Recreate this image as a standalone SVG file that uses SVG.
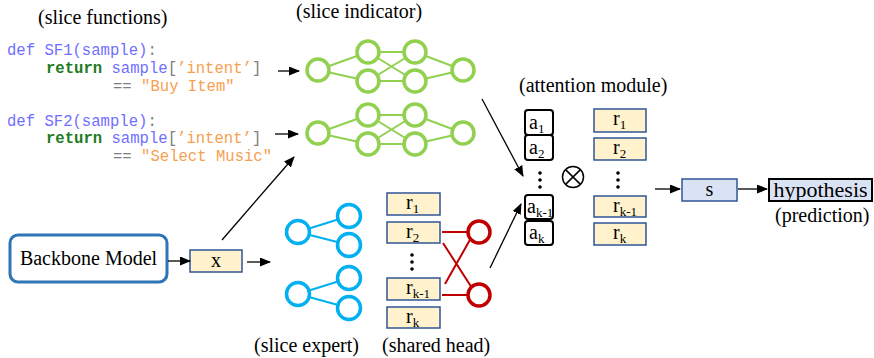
<svg xmlns="http://www.w3.org/2000/svg" width="874" height="358" viewBox="0 0 874 358">
<defs>
<marker id="ah" markerUnits="userSpaceOnUse" markerWidth="11" markerHeight="9" refX="10" refY="4.5" orient="auto">
<path d="M0,0 L11,4.5 L0,9 z" fill="#000"/>
</marker>
</defs>
<style>
.t{font-family:"Liberation Serif","Times New Roman",serif;font-size:20px;fill:#000}
.code{font-family:"Liberation Mono","Courier New",monospace;font-size:15.6px}
.kb{fill:#6f6fff}.kg{fill:#1e7b1e;font-weight:bold}.ko{fill:#f7a050}.kx{fill:#7f7f7f}
.gc{fill:#fff;stroke:#92d050;stroke-width:3.5}
.gl{stroke:#92d050;stroke-width:2;fill:none}
.bc{fill:#fff;stroke:#00b0f0;stroke-width:3.5}
.bl{stroke:#00b0f0;stroke-width:2;fill:none}
.rc{fill:#fff;stroke:#c00000;stroke-width:3.5}
.rl{stroke:#c00000;stroke-width:2;fill:none}
.rb{fill:#fff2cc;stroke:#2f5597;stroke-width:1.5}
.sb{fill:#dae3f3;stroke:#2f5597;stroke-width:1.5}
.ab{fill:#fff;stroke:#000;stroke-width:2}
.arr{stroke:#000;stroke-width:1.3;fill:none;marker-end:url(#ah)}
.sub{font-size:13px}
</style>

<g id="slice-functions">
<text class="t" x="38" y="24">(slice functions)</text>
<text class="code" x="7" y="55"><tspan class="kb">def SF1(sample)</tspan><tspan class="kx">:</tspan></text>
<text class="code" x="46" y="73"><tspan class="kg">return</tspan> <tspan class="kb">sample</tspan><tspan class="kx">[</tspan><tspan class="ko">’intent’</tspan><tspan class="kx">]</tspan></text>
<text class="code" x="113" y="91"><tspan class="kx">==</tspan> <tspan class="ko">"Buy Item"</tspan></text>
<text class="code" x="7" y="126"><tspan class="kb">def SF2(sample)</tspan><tspan class="kx">:</tspan></text>
<text class="code" x="46" y="143"><tspan class="kg">return</tspan> <tspan class="kb">sample</tspan><tspan class="kx">[</tspan><tspan class="ko">’intent’</tspan><tspan class="kx">]</tspan></text>
<text class="code" x="113" y="161"><tspan class="kx">==</tspan> <tspan class="ko">"Select Music"</tspan></text>
</g>

<g id="slice-indicator">
<text class="t" x="296" y="18">(slice indicator)</text>
<g class="gl">
<path d="M318,70 L368,52 M318,70 L368,81 M368,52 L415,52 M368,52 L415,81 M368,81 L415,52 M368,81 L415,81 M415,52 L463,70 M415,81 L463,70"/>
<path d="M318,133 L368,115 M318,133 L368,144 M368,115 L415,115 M368,115 L415,144 M368,144 L415,115 M368,144 L415,144 M415,115 L463,133 M415,144 L463,133"/>
</g>
<circle class="gc" cx="318" cy="70" r="11"/><circle class="gc" cx="368" cy="52" r="11"/><circle class="gc" cx="368" cy="81" r="11"/>
<circle class="gc" cx="415" cy="52" r="11"/><circle class="gc" cx="415" cy="81" r="11"/><circle class="gc" cx="463" cy="70" r="11"/>
<circle class="gc" cx="318" cy="133" r="11"/><circle class="gc" cx="368" cy="115" r="11"/><circle class="gc" cx="368" cy="144" r="11"/>
<circle class="gc" cx="415" cy="115" r="11"/><circle class="gc" cx="415" cy="144" r="11"/><circle class="gc" cx="463" cy="133" r="11"/>
</g>

<g id="backbone">
<rect x="10" y="235" width="157" height="47" rx="8" fill="#fff" stroke="#2e75b6" stroke-width="3"/>
<text class="t" x="88.5" y="265" text-anchor="middle">Backbone Model</text>
</g>

<g id="x">
<rect class="rb" x="190" y="250" width="52" height="22"/>
<text class="t" x="216" y="267" text-anchor="middle">x</text>
</g>

<g id="slice-expert">
<path class="bl" d="M298,232 L349,216 M298,232 L349,245 M298,294 L349,278 M298,294 L349,308"/>
<circle class="bc" cx="298" cy="232" r="11.5"/><circle class="bc" cx="349" cy="216" r="11.5"/><circle class="bc" cx="349" cy="245" r="11.5"/>
<circle class="bc" cx="298" cy="294" r="11.5"/><circle class="bc" cx="349" cy="278" r="11.5"/><circle class="bc" cx="349" cy="308" r="11.5"/>
<text class="t" x="254" y="352">(slice expert)</text>
</g>

<g id="shared-head">
<rect class="rb" x="387" y="193" width="53" height="22"/>
<text class="t" x="406" y="209">r<tspan class="sub" dy="4">1</tspan></text>
<rect class="rb" x="387" y="222" width="53" height="21"/>
<text class="t" x="406" y="238">r<tspan class="sub" dy="4">2</tspan></text>
<circle cx="412" cy="255" r="1.8"/><circle cx="412" cy="262" r="1.8"/><circle cx="412" cy="269" r="1.8"/>
<rect class="rb" x="387" y="278" width="53" height="22"/>
<text class="t" x="406" y="294">r<tspan class="sub" dy="4">k-1</tspan></text>
<rect class="rb" x="387" y="307" width="53" height="21"/>
<text class="t" x="406" y="323">r<tspan class="sub" dy="4">k</tspan></text>
<path class="rl" d="M442,232 L468,232 M442,295 L468,295 M443,243 L472,288 M445,284 L471,238"/>
<circle class="rc" cx="479" cy="232" r="11"/><circle class="rc" cx="479" cy="295" r="11"/>
<text class="t" x="382" y="352">(shared head)</text>
</g>

<g id="attention-module">
<text class="t" x="519" y="92">(attention module)</text>
<rect class="ab" x="525" y="110" width="28" height="25" rx="3"/>
<text class="t" x="529" y="129">a<tspan class="sub" dy="4">1</tspan></text>
<rect class="ab" x="525" y="135" width="28" height="25" rx="3"/>
<text class="t" x="529" y="154">a<tspan class="sub" dy="4">2</tspan></text>
<circle cx="540" cy="173" r="1.8"/><circle cx="540" cy="180" r="1.8"/><circle cx="540" cy="187" r="1.8"/>
<rect class="ab" x="525" y="195" width="28" height="24" rx="3"/>
<text class="t" x="527" y="213">a<tspan class="sub" dy="4">k-1</tspan></text>
<rect class="ab" x="525" y="221" width="28" height="24" rx="3"/>
<text class="t" x="529" y="239">a<tspan class="sub" dy="4">k</tspan></text>
<circle cx="573" cy="177" r="10.5" fill="#fff" stroke="#000" stroke-width="1.5"/>
<path d="M565.6,169.6 L580.4,184.4 M580.4,169.6 L565.6,184.4" stroke="#000" stroke-width="1.5"/>
<rect class="rb" x="594" y="109" width="52" height="23"/>
<text class="t" x="613" y="125">r<tspan class="sub" dy="4">1</tspan></text>
<rect class="rb" x="594" y="138" width="52" height="22"/>
<text class="t" x="613" y="154">r<tspan class="sub" dy="4">2</tspan></text>
<circle cx="618" cy="173" r="1.8"/><circle cx="618" cy="180" r="1.8"/><circle cx="618" cy="187" r="1.8"/>
<rect class="rb" x="594" y="196" width="52" height="21"/>
<text class="t" x="613" y="212">r<tspan class="sub" dy="4">k-1</tspan></text>
<rect class="rb" x="594" y="223" width="52" height="22"/>
<text class="t" x="613" y="239">r<tspan class="sub" dy="4">k</tspan></text>
</g>

<g id="s">
<rect class="sb" x="682" y="179" width="55" height="22"/>
<text class="t" x="709.5" y="196" text-anchor="middle">s</text>
</g>

<g id="hypothesis">
<rect x="769" y="179" width="103" height="22" fill="#dae3f3" stroke="#000" stroke-width="2"/>
<text class="t" x="820.5" y="197" text-anchor="middle" style="font-size:22px">hypothesis</text>
<text class="t" x="775" y="222">(prediction)</text>
</g>

<g id="connectors">
<path class="arr" d="M278,71 L299,71"/>
<path class="arr" d="M275,134 L298,134"/>
<path class="arr" d="M222,240 L294,157"/>
<path class="arr" d="M168,261 L190,261"/>
<path class="arr" d="M247,262 L270,262"/>
<path class="arr" d="M482,99 L523,176"/>
<path class="arr" d="M490,268 L521,204"/>
<path class="arr" d="M655,189 L680,189"/>
<path class="arr" d="M738,189 L767,189"/>
</g>
</svg>
